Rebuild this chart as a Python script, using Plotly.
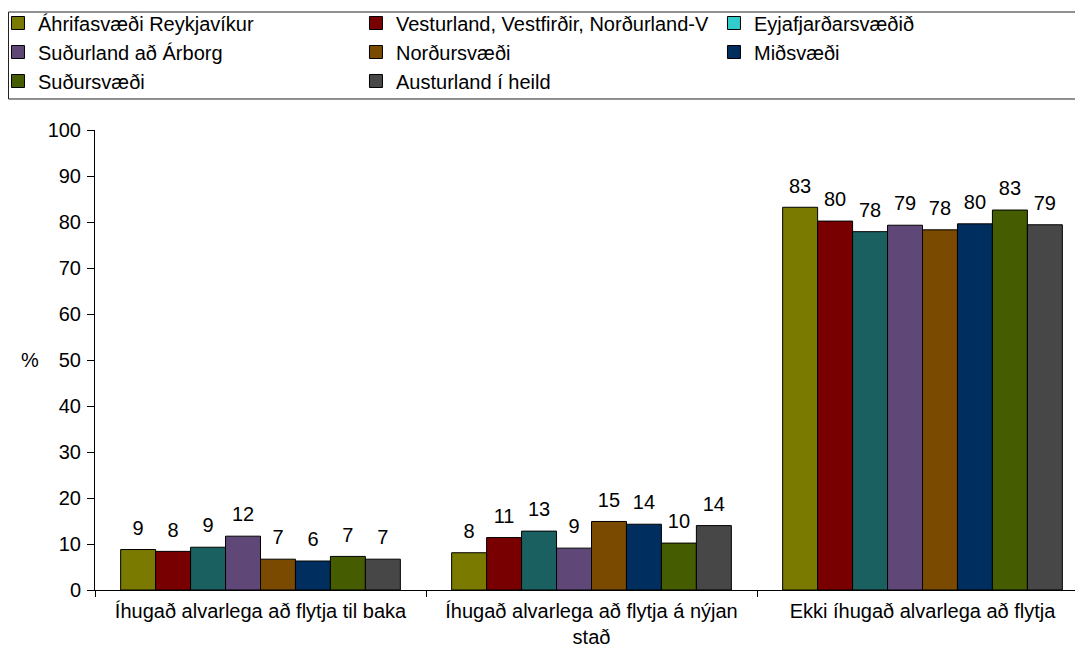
import plotly.graph_objects as go

categories = [
    "Íhugað alvarlega að flytja til baka",
    "Íhugað alvarlega að flytja á nýjan<br>stað",
    "Ekki íhugað alvarlega að flytja",
]
series_names = [
    "Áhrifasvæði Reykjavíkur",
    "Vesturland, Vestfirðir, Norðurland-V",
    "Eyjafjarðarsvæðið",
    "Suðurland að Árborg",
    "Norðursvæði",
    "Miðsvæði",
    "Suðursvæði",
    "Austurland í heild",
]
reykjavik = [8.8, 8.1, 83.2]
vesturland = [8.4, 11.4, 80.2]
eyjafjordur = [9.3, 12.8, 77.9]
sudurland = [11.7, 9.1, 79.3]
nordursvaedi = [6.7, 14.9, 78.3]
midsvaedi = [6.3, 14.3, 79.6]
sudursvaedi = [7.3, 10.2, 82.6]
austurland = [6.7, 14.0, 79.4]
series_values = [reykjavik, vesturland, eyjafjordur, sudurland,
                 nordursvaedi, midsvaedi, sudursvaedi, austurland]
bar_colors = ["#7a7a00", "#780000", "#1a6060", "#5f4878",
              "#7a4a00", "#002e5e", "#465c00", "#474747"]
legend_colors = ["#7a7a00", "#780000", "#33cccc", "#5f4878",
                 "#7a4a00", "#002e5e", "#465c00", "#474747"]

FONT = "Liberation Sans, Arial, sans-serif"
FS = 20
GAP = 0.155
fig = go.Figure()
for i, (name, vals, col) in enumerate(zip(series_names, series_values, bar_colors)):
    fig.add_trace(go.Bar(
        x=categories, y=vals, name=name, showlegend=False,
        offsetgroup=str(i), hoverinfo="skip",
        marker=dict(color=col, line=dict(color="#000000", width=1)),
    ))
for i, (name, vals) in enumerate(zip(series_names, series_values)):
    fig.add_trace(go.Scatter(
        x=categories, y=vals, mode="markers+text", showlegend=False,
        offsetgroup=str(i), hoverinfo="skip",
        marker=dict(size=14, opacity=0),
        texttemplate="%{y:.0f}", textposition="top center",
        textfont=dict(size=FS, color="#000000", family=FONT),
        cliponaxis=False,
    ))
for name, col in zip(series_names, legend_colors):
    fig.add_trace(go.Scatter(
        x=[None], y=[None], mode="markers", name=name,
        marker=dict(symbol="square", size=13, color=col,
                    line=dict(color="#000000", width=1)),
    ))

fig.update_layout(
    template="none",
    width=1083, height=655,
    margin=dict(l=87, r=3, t=122, b=73, autoexpand=False),
    paper_bgcolor="white", plot_bgcolor="white",
    barmode="group", bargap=GAP, bargroupgap=0,
    scattermode="group", scattergap=GAP,
    font=dict(family=FONT, size=FS, color="#000000"),
    legend=dict(
        orientation="h", x=-0.0977, y=1.275, xanchor="left", yanchor="top",
        entrywidth=313, entrywidthmode="pixels",
        borderwidth=0, bgcolor="rgba(0,0,0,0)",
        font=dict(size=FS, family=FONT, color="#000000"),
        itemwidth=30, tracegroupgap=0,
    ),
    shapes=[dict(
        type="rect", xref="paper", yref="paper",
        x0=-0.0871, x1=0.990, y0=1.0674, y1=1.2565,
        line=dict(color="#222222", width=1), fillcolor="rgba(0,0,0,0)",
        layer="below",
    )],
    xaxis=dict(
        showline=True, linecolor="#000000", linewidth=1, automargin=False,
        ticks="outside", tickson="boundaries", ticklen=6, tickcolor="#000000",
        ticklabelstandoff=3,
        showgrid=False, tickfont=dict(size=FS, family=FONT),
    ),
    yaxis=dict(
        range=[0, 100], dtick=10, showline=True, linecolor="#000000",
        linewidth=1, ticks="outside", ticklen=7, tickcolor="#000000",
        ticklabelstandoff=2, automargin=False,
        showgrid=False, zeroline=False, tickfont=dict(size=FS, family=FONT),
    ),
    annotations=[dict(
        text="%", xref="paper", yref="paper", x=-0.0655, y=0.5,
        xanchor="center", yanchor="middle", showarrow=False,
        font=dict(size=FS, family=FONT, color="#000000"),
    )],
)

fig.write_html("out.html")
